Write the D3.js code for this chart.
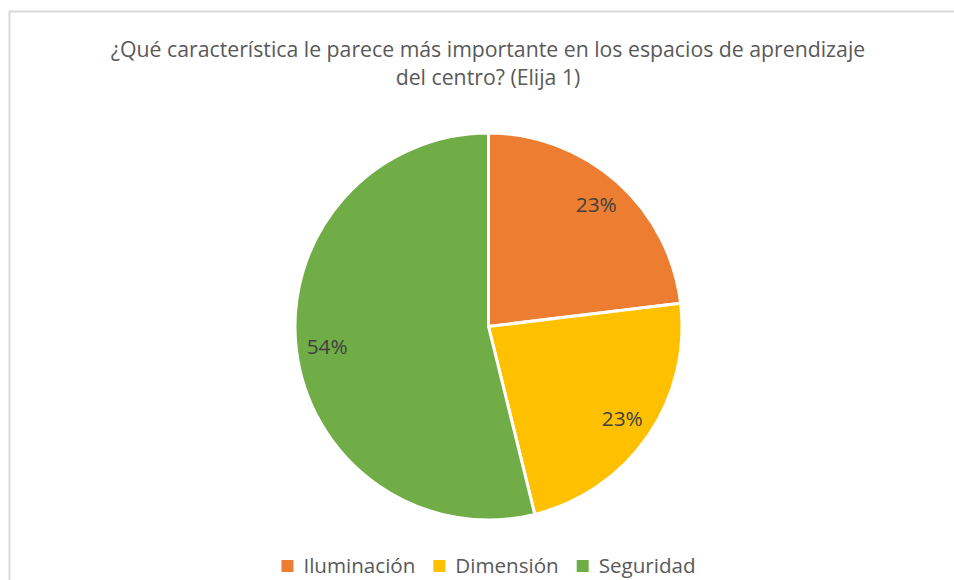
<!DOCTYPE html>
<html>
<head>
<meta charset="utf-8">
<script src="https://cdn.jsdelivr.net/npm/d3@7/dist/d3.min.js"></script>
<style>
  html, body { margin: 0; padding: 0; background: #fff; }
  svg { display: block; }
  text { font-family: "Open Sans", "Noto Sans", sans-serif; }
</style>
</head>
<body>
<svg id="chart" width="954" height="580"></svg>
<script>
// Survey answers (number of responses per option)
const categories = ["Iluminación", "Dimensión", "Seguridad"];
const counts = [3, 3, 7];
const colors = ["#ED7D31", "#FFC000", "#70AD47"];
const titleLines = [
  "¿Qué característica le parece más importante en los espacios de aprendizaje",
  "del centro? (Elija 1)"
];

const W = 954, H = 580;
const svg = d3.select("#chart");

// Returns the font size that makes a string span the given width
function fitSize(str, width, base) {
  const probe = svg.append("text").attr("font-size", base).text(str);
  const w = probe.node().getComputedTextLength();
  probe.remove();
  return base * width / w;
}

// Chart frame (light grey border on top and left)
svg.append("line").attr("x1", 9).attr("x2", W).attr("y1", 11.5).attr("y2", 11.5)
  .attr("stroke", "#d9d9d9").attr("stroke-width", 2);
svg.append("line").attr("x1", 9.5).attr("x2", 9.5).attr("y1", 11).attr("y2", H)
  .attr("stroke", "#d9d9d9").attr("stroke-width", 2);

// Title
const titleSize = fitSize(titleLines[0], 755, 20);
svg.append("g").selectAll("text").data(titleLines).join("text")
  .attr("x", 488).attr("y", (d, i) => 57 + i * 28)
  .attr("text-anchor", "middle")
  .attr("font-size", titleSize)
  .attr("fill", "#595959")
  .text(d => d);

// Pie
const cx = 488.5, cy = 326.5, R = 193.5;
const total = d3.sum(counts);
const data = categories.map((c, i) => ({ name: c, value: counts[i], color: colors[i] }));
const pie = d3.pie().value(d => d.value).sort(null);
const arc = d3.arc().innerRadius(0).outerRadius(R);
const labelArc = d3.arc().innerRadius(R * 0.84).outerRadius(R * 0.84);
const arcs = pie(data);

const g = svg.append("g").attr("transform", `translate(${cx},${cy})`);
g.selectAll("path.slice").data(arcs).join("path")
  .attr("class", "slice")
  .attr("d", arc)
  .attr("fill", d => d.data.color)
  .attr("stroke", "#fff")
  .attr("stroke-width", 3)
  .attr("stroke-linejoin", "round");

const fmt = d3.format(".0%");
const labelSize = fitSize("23%", 41, 20);
g.selectAll("text.lbl").data(arcs).join("text")
  .attr("class", "lbl")
  .attr("transform", d => `translate(${labelArc.centroid(d)})`)
  .attr("text-anchor", "middle")
  .attr("dy", "0.36em")
  .attr("font-size", labelSize)
  .attr("fill", "#404040")
  .text(d => fmt(d.data.value / total));

// Legend
const legendSize = fitSize(categories[0], 112, 20);
const legend = svg.append("g").attr("transform", "translate(0,566)");
const items = legend.selectAll("g").data(data).join("g");
items.append("rect").attr("width", 12).attr("height", 12).attr("y", -6)
  .attr("fill", d => d.color);
items.append("text").attr("x", 22).attr("dy", "0.36em")
  .attr("font-size", legendSize).attr("fill", "#595959")
  .text(d => d.name);
// Lay out legend items centered under the pie
let widths = [];
items.each(function () { widths.push(this.getBBox().width); });
const gap = 18;
const totalW = d3.sum(widths) + gap * (widths.length - 1);
let x = 488.5 - totalW / 2;
items.attr("transform", (d, i) => {
  const tx = x; x += widths[i] + gap; return `translate(${tx},0)`;
});
</script>
</body>
</html>
